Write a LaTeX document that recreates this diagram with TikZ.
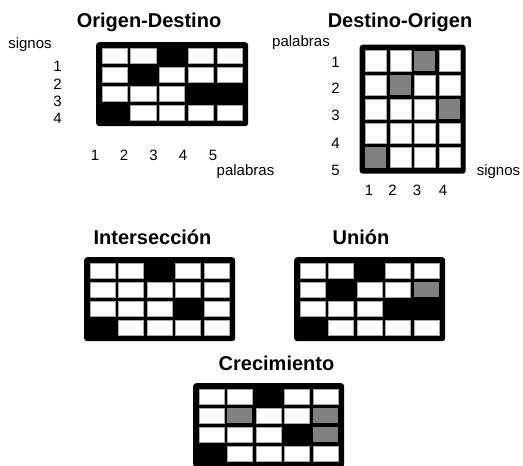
\documentclass[tikz,border=0pt]{standalone}
\usepackage{fontspec}
\setmainfont{Liberation Sans}
\usepackage{xcolor}
\usepackage{tikz}
\usetikzlibrary{positioning,calc}
\tikzset{
  gridFrame/.style={
    rectangle,
    rounded corners=3pt,
    fill=black,
    inner sep=0pt
  },
  cellW/.style={
    rectangle,
    fill=white,
    draw=black!35,
    line width=0.4pt,
    inner sep=0pt
  },
  cellG/.style={
    rectangle,
    fill=black!50,
    inner sep=0pt
  },
  cellB/.style={
    rectangle,
    inner sep=0pt
  },
  titleText/.style={
    font=\fontsize{20}{24}\selectfont\bfseries,
    inner sep=0pt
  },
  axisLabel/.style={
    font=\fontsize{15}{18}\selectfont,
    inner sep=0pt
  }
}
% #1 name, #2 top-left of the cells, #3 cell width, #4 cell height,
% #5 columns, #6 rows, #7 rows of cell kinds (W white, G gray, B black)
\newcommand{\cellgrid}[7]{%
  \begin{scope}[shift={#2}]
    \node[gridFrame, anchor=north west,
      minimum width={#5*#3pt+8pt}, minimum height={#6*#4pt+8pt}] (#1) at (-4,-4) {};
    \foreach \rowcells [count=\r] in {#7}
      \foreach \c [count=\k] in \rowcells
        \node[cell\c, minimum width={#3pt-3.5pt}, minimum height={#4pt-4pt}]
          (#1-\r-\k) at ({(\k-0.5)*#3},{(\r-0.5)*#4}) {};
  \end{scope}}

\begin{document}
\begin{tikzpicture}[x=1pt,y=-1pt]
  \useasboundingbox (0,0) rectangle (523,466);

  % Origen-Destino
  \node[titleText] (odTitle) at (149,22) {Origen-Destino};
  \cellgrid{od}{(100,46)}{28.8}{19}{5}{4}{{W,W,B,W,W},{W,B,W,W,W},{W,W,W,B,B},{B,W,W,W,W}}
  \node[axisLabel] (odSignos) at (30,45) {signos};
  \foreach \n/\y in {1/66,2/84,3/101.5,4/118.5}
    \node[axisLabel, anchor=east] (odRow\n) at (62,\y) {\n};
  \foreach \n/\x in {1/95,2/124,3/153.5,4/183,5/213}
    \node[axisLabel] (odCol\n) at (\x,155) {\n};
  \node[axisLabel] (odPalabras) at (245.5,172) {palabras};

  % Destino-Origen
  \node[titleText] (doTitle) at (400,22) {Destino-Origen};
  \cellgrid{do}{(363.5,48.5)}{24.5}{24.2}{4}{5}{{W,W,G,W},{W,G,W,W},{W,W,W,G},{W,W,W,W},{G,W,W,W}}
  \node[axisLabel] (doPalabras) at (301,43) {palabras};
  \foreach \n/\y in {1/62,2/88,3/115,4/143,5/170}
    \node[axisLabel, anchor=east] (doRow\n) at (340,\y) {\n};
  \foreach \n/\x in {1/369,2/392.5,3/417,4/443}
    \node[axisLabel] (doCol\n) at (\x,190) {\n};
  \node[axisLabel] (doSignos) at (498.5,172) {signos};

  % Interseccion
  \node[titleText] (intTitle) at (152.5,237) {Intersección};
  \cellgrid{int}{(88,261)}{28.6}{19}{5}{4}{{W,W,B,W,W},{W,W,W,W,W},{W,W,W,B,W},{B,W,W,W,W}}

  % Union
  \node[titleText] (unTitle) at (361,237) {Unión};
  \cellgrid{un}{(298,261)}{28.6}{19}{5}{4}{{W,W,B,W,W},{W,B,W,W,G},{W,W,W,B,B},{B,W,W,W,W}}

  % Crecimiento
  \node[titleText] (crTitle) at (276.5,363) {Crecimiento};
  \cellgrid{cr}{(197,387)}{28.6}{19}{5}{4}{{W,W,B,W,W},{W,G,W,W,G},{W,W,W,B,G},{B,W,W,W,W}}
\end{tikzpicture}
\end{document}
